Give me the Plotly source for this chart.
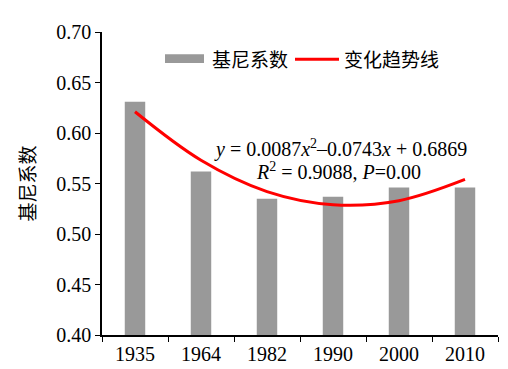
import plotly.graph_objects as go

years = ["1935", "1964", "1982", "1990", "2000", "2010"]
gini = [0.631, 0.562, 0.535, 0.537, 0.546, 0.546]
trend = [0.621, 0.573, 0.542, 0.529, 0.533, 0.554]
y_ticks = [0.40, 0.45, 0.50, 0.55, 0.60, 0.65, 0.70]

serif = "Liberation Serif, Times New Roman, serif"
cjk = "Noto Sans CJK SC, sans-serif"

fig = go.Figure()
fig.add_trace(go.Bar(x=years, y=gini, marker=dict(color="#999999", line=dict(width=0)),
                     name="基尼系数", showlegend=False))
fig.add_trace(go.Scatter(x=years, y=trend, mode="lines", line=dict(color="#ff0000", width=3, shape="spline"),
                         name="变化趋势线", showlegend=False))

fig.update_layout(
    width=508, height=369,
    margin=dict(l=94, r=18, t=24, b=33),
    paper_bgcolor="white", plot_bgcolor="white",
    bargap=0.69,
    xaxis=dict(type="category", showline=True, linecolor="black", linewidth=1.5,
               ticks="outside", tickson="boundaries", ticklen=5, tickcolor="black",
               tickfont=dict(family=serif, size=20, color="black"), showgrid=False),
    yaxis=dict(range=[0.40, 0.70], tickvals=y_ticks, ticktext=[f"{v:.2f}" for v in y_ticks],
               showline=True, linecolor="black", linewidth=1.5, ticks="outside", ticklen=5,
               tickcolor="black", tickfont=dict(family=serif, size=20, color="black"),
               showgrid=False, zeroline=False,
               title=dict(text="基尼系数", font=dict(family=cjk, size=19, color="black"), standoff=16)),
)

# legend drawn with shapes + text
fig.add_shape(type="rect", xref="paper", yref="paper",
              x0=(157-94)/396, x1=(196-94)/396, y0=(336-56)/312, y1=(336-47)/312,
              fillcolor="#999999", line=dict(width=0))
fig.add_annotation(text="基尼系数", xref="paper", yref="paper", x=(202-94)/396, y=(336-51)/312,
                   xanchor="left", yanchor="middle", showarrow=False,
                   font=dict(family=cjk, size=19, color="black"))
fig.add_shape(type="line", xref="paper", yref="paper",
              x0=(287-94)/396, x1=(331-94)/396, y0=(336-52)/312, y1=(336-52)/312,
              line=dict(color="#ff0000", width=3))
fig.add_annotation(text="变化趋势线", xref="paper", yref="paper", x=(334-94)/396, y=(336-51)/312,
                   xanchor="left", yanchor="middle", showarrow=False,
                   font=dict(family=cjk, size=19, color="black"))

fig.add_annotation(text="<i>y</i> = 0.0087<i>x</i><sup>2</sup>–0.0743<i>x</i> + 0.6869",
                   xref="paper", yref="paper", x=(332-94)/396, y=(336-144)/312,
                   xanchor="center", yanchor="middle", showarrow=False,
                   font=dict(family=serif, size=20, color="black"))
fig.add_annotation(text="<i>R</i><sup>2</sup> = 0.9088, <i>P</i>=0.00",
                   xref="paper", yref="paper", x=(330-94)/396, y=(336-167)/312,
                   xanchor="center", yanchor="middle", showarrow=False,
                   font=dict(family=serif, size=20, color="black"))

fig.write_html("out.html")
